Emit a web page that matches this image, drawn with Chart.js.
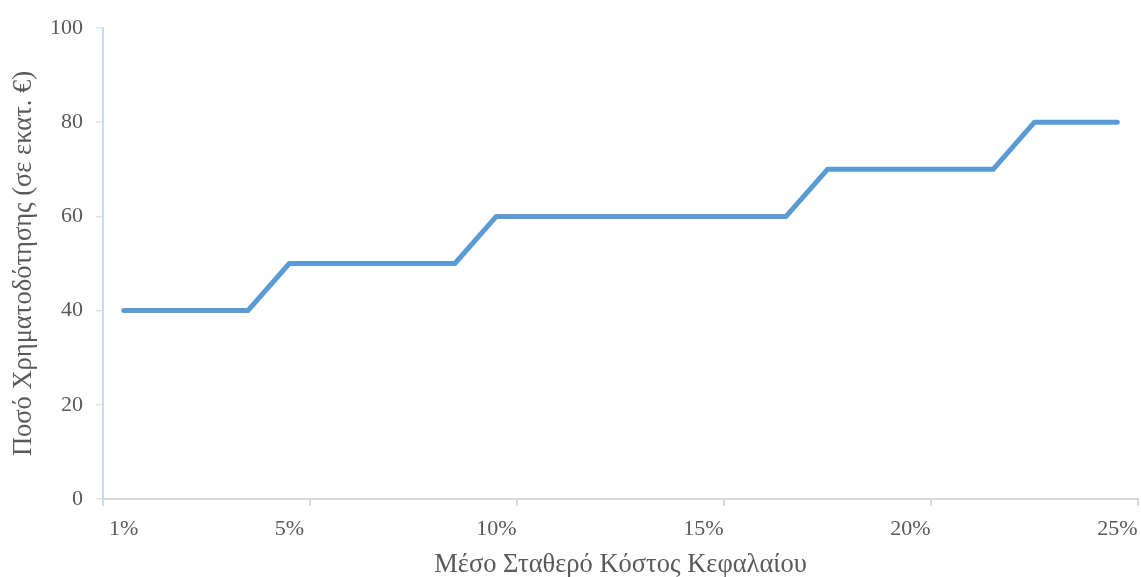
<!DOCTYPE html>
<html>
<head>
<meta charset="utf-8">
<script src="https://cdn.jsdelivr.net/npm/chart.js@4.4.1/dist/chart.umd.min.js"></script>
<style>
html,body{margin:0;padding:0;background:#fff;}
#wrap{width:1141px;height:577px;position:relative;}
</style>
</head>
<body>
<div id="wrap"><canvas id="c" width="1141" height="577"></canvas></div>
<script>
const categories = ['1%','2%','3%','4%','5%','6%','7%','8%','9%','10%','11%','12%','13%','14%','15%','16%','17%','18%','19%','20%','21%','22%','23%','24%','25%'];
const fundingAmount = [40,40,40,40,50,50,50,50,50,60,60,60,60,60,60,60,60,70,70,70,70,70,80,80,80];
const shownLabels = ['1%','5%','10%','15%','20%','25%'];
const yTicks = [0,20,40,60,80,100];

const FONT = '"Liberation Serif", "Times New Roman", serif';
const TXT = '#595959';

new Chart(document.getElementById('c'), {
  type: 'line',
  data: {
    labels: categories,
    datasets: [{
      data: fundingAmount,
      borderColor: '#5B9BD5',
      borderWidth: 5,
      pointRadius: 0,
      tension: 0,
      fill: false,
      borderJoinStyle: 'round',
      borderCapStyle: 'round'
    }]
  },
  options: {
    responsive: false,
    animation: false,
    layout: { padding: { top: 28, right: 3, left: 0, bottom: 0 } },
    plugins: { legend: { display: false }, tooltip: { enabled: false } },
    scales: {
      x: {
        type: 'category',
        offset: true,
        grid: {
          offset: true,
          drawOnChartArea: false,
          drawTicks: true,
          tickLength: 7,
          color: (ctx) => {
            if (ctx.index === undefined) return '#d9d9d9';
            return ctx.index % 5 === 0 ? '#d9d9d9' : 'rgba(0,0,0,0)';
          },
          lineWidth: 2
        },
        border: { display: true, color: '#d9d9d9', width: 2 },
        ticks: {
          autoSkip: false,
          maxRotation: 0,
          color: TXT,
          font: { family: FONT, size: 22 },
          padding: 10,
          callback: function(v, i) {
            const l = this.getLabelForValue(v);
            return shownLabels.includes(l) ? l : '';
          }
        },
        title: {
          display: true,
          text: 'Μέσο Σταθερό Κόστος Κεφαλαίου',
          color: TXT,
          font: { family: FONT, size: 26.5 },
          padding: { top: 4, bottom: -4 }
        },
        afterFit: (s) => { s.height = 78; s.paddingLeft = 0; s.paddingRight = 0; }
      },
      y: {
        min: 0,
        max: 100,
        afterBuildTicks: (s) => { s.ticks = yTicks.map(v => ({ value: v })); },
        grid: {
          drawOnChartArea: false,
          drawTicks: true,
          tickLength: 7,
          color: '#dbe6f3',
          lineWidth: 1.5
        },
        border: { display: true, color: '#c5daf0', width: 2 },
        ticks: {
          color: TXT,
          font: { family: FONT, size: 22 },
          padding: 13
        },
        title: {
          display: true,
          text: 'Ποσό Χρηματοδότησης (σε εκατ. €)',
          color: TXT,
          font: { family: FONT, size: 26.5 },
          padding: { top: 8, bottom: 4 }
        },
        afterFit: (s) => { s.width = 103; }
      }
    }
  }
});
</script>
</body>
</html>
